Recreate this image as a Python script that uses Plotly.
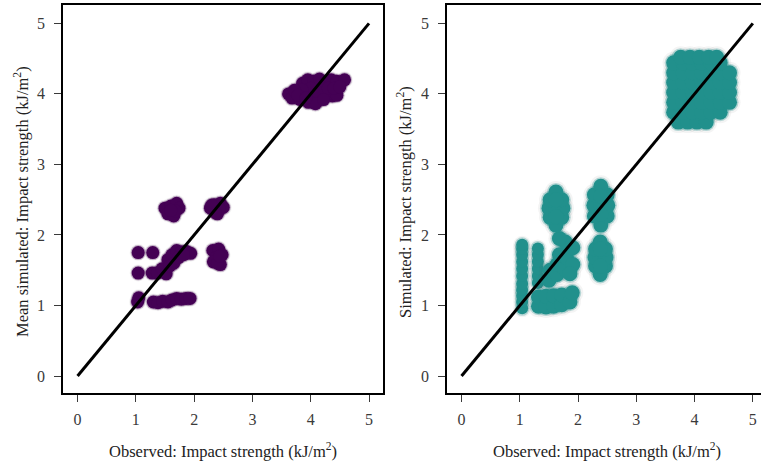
import plotly.graph_objects as go

# ---------------- data ----------------
ticks = [0, 1, 2, 3, 4, 5]
identity = [0, 5]

# Left panel: observed vs mean simulated (jittered)
mean_obs_x = [
    3.62, 3.68, 3.75, 3.82, 3.90, 3.96, 4.03, 4.10, 4.18, 4.28, 4.37, 4.45,
    3.86, 3.95, 4.05, 4.15, 4.25, 4.35, 4.45, 4.58, 4.00, 4.20, 3.85,
    3.72, 3.78, 4.12, 4.30, 4.40, 4.50, 4.08, 3.92, 4.22,
    1.50, 1.55, 1.60, 1.65, 1.70, 1.74, 1.68, 1.60,
    2.28, 2.34, 2.40, 2.45, 2.50, 2.43, 2.36, 2.30,
    2.32, 2.42, 2.48, 2.38, 2.33, 2.45, 2.40, 2.44,
    1.04, 1.29,
    1.55, 1.62, 1.70, 1.78, 1.86, 1.94, 1.65, 1.73, 1.82,
    1.04, 1.28, 1.37, 1.45, 1.52, 1.58,
    1.03, 1.05, 1.30, 1.38, 1.46, 1.55, 1.62, 1.70, 1.78, 1.86, 1.93,
]
mean_sim_y = [
    4.00, 3.94, 4.02, 3.92, 4.00, 3.88, 3.95, 3.89, 3.97, 4.00, 3.97, 3.98,
    4.15, 4.20, 4.18, 4.21, 4.15, 4.20, 4.18, 4.20, 4.08, 4.08, 4.06,
    4.05, 3.98, 4.02, 4.08, 4.08, 4.10, 3.86, 3.94, 3.92,
    2.38, 2.30, 2.41, 2.27, 2.45, 2.38, 2.34, 2.35,
    2.38, 2.43, 2.30, 2.45, 2.39, 2.37, 2.32, 2.42,
    1.78, 1.80, 1.72, 1.68, 1.62, 1.58, 1.60, 1.70,
    1.75, 1.75,
    1.65, 1.72, 1.78, 1.76, 1.77, 1.74, 1.60, 1.68, 1.72,
    1.46, 1.46, 1.46, 1.52, 1.45, 1.56,
    1.05, 1.11, 1.05, 1.04, 1.06, 1.05, 1.08, 1.10, 1.09, 1.10, 1.10,
]

# Right panel: observed vs simulated draws
# (a) runs with little horizontal jitter (narrow columns near 1.0 and 1.3)
sim_narrow_x = [
    1.04, 1.04, 1.04, 1.04, 1.04, 1.04, 1.04, 1.04, 1.04, 1.04, 1.04,
    1.31, 1.31, 1.31, 1.31, 1.31, 1.31,
]
sim_narrow_y = [
    0.96, 1.05, 1.14, 1.22, 1.31, 1.42, 1.52, 1.62, 1.72, 1.80, 1.86,
    1.32, 1.42, 1.52, 1.62, 1.72, 1.81,
]
# (b) remaining runs
sim_obs_x = [
    1.32, 1.32, 1.45, 1.45, 1.58, 1.58, 1.72, 1.72, 1.86, 1.90,
    1.50, 1.52, 1.64, 1.64, 1.77, 1.68, 1.80, 1.91, 1.91, 1.78, 1.68, 1.86,
    1.62, 1.52, 1.72, 1.50, 1.62, 1.74, 1.52, 1.72, 1.62, 1.62, 1.62,
    2.39, 2.28, 2.50, 2.27, 2.39, 2.51, 2.28, 2.50, 2.39, 2.39, 2.39,
    2.38, 2.30, 2.47, 2.29, 2.38, 2.48, 2.30, 2.47, 2.38, 2.38, 2.38,
    3.72, 3.88, 4.04, 4.20,
    3.64, 3.80, 3.96, 4.12, 4.28, 4.44,
    3.64, 3.80, 3.96, 4.12, 4.28, 4.44, 4.60,
    3.64, 3.80, 3.96, 4.12, 4.28, 4.44, 4.60,
    3.64, 3.80, 3.96, 4.12, 4.28, 4.44, 4.60,
    3.64, 3.80, 3.96, 4.12, 4.28, 4.44, 4.60,
    3.64, 3.80, 3.96, 4.12, 4.28, 4.44,
    3.76, 3.92, 4.08, 4.24, 4.38,
]
sim_y = [
    0.99, 1.12, 0.98, 1.13, 0.99, 1.14, 1.01, 1.15, 1.05, 1.18,
    1.36, 1.50, 1.44, 1.58, 1.52, 1.72, 1.68, 1.58, 1.82, 1.90, 1.95, 1.45,
    2.14, 2.25, 2.25, 2.38, 2.37, 2.38, 2.50, 2.50, 2.61, 2.26, 2.50,
    2.14, 2.27, 2.27, 2.42, 2.42, 2.42, 2.57, 2.57, 2.69, 2.55, 2.29,
    1.44, 1.56, 1.56, 1.68, 1.68, 1.68, 1.80, 1.80, 1.90, 1.56, 1.80,
    3.60, 3.60, 3.60, 3.60,
    3.74, 3.74, 3.74, 3.74, 3.74, 3.74,
    3.88, 3.88, 3.88, 3.88, 3.88, 3.88, 3.88,
    4.02, 4.02, 4.02, 4.02, 4.02, 4.02, 4.02,
    4.16, 4.16, 4.16, 4.16, 4.16, 4.16, 4.16,
    4.30, 4.30, 4.30, 4.30, 4.30, 4.30, 4.30,
    4.44, 4.44, 4.44, 4.44, 4.44, 4.44,
    4.52, 4.52, 4.52, 4.52, 4.52,
]

x_title = "Observed: Impact strength (kJ/m<sup>2</sup>)"
y_title_left = "Mean simulated: Impact strength (kJ/m<sup>2</sup>)"
y_title_right = "Simulated: Impact strength (kJ/m<sup>2</sup>)"

PURPLE = "#440154"
TEAL = "#21908C"
FONT = "Liberation Serif"
TICK_COLOR = "#3a3a3a"

W, H = 761, 466
fig = go.Figure()


def cloud(xs, ys, ax, ay, color, core, halo_gray, halo_col):
    fig.add_trace(go.Scatter(x=xs, y=ys, mode="markers", xaxis=ax, yaxis=ay,
                             marker=dict(size=core + halo_gray, color="#666666", opacity=0.07,
                                         line=dict(width=0)), hoverinfo="skip"))
    fig.add_trace(go.Scatter(x=xs, y=ys, mode="markers", xaxis=ax, yaxis=ay,
                             marker=dict(size=core + halo_col, color=color, opacity=0.3,
                                         line=dict(width=0)), hoverinfo="skip"))
    fig.add_trace(go.Scatter(x=xs, y=ys, mode="markers", xaxis=ax, yaxis=ay,
                             marker=dict(size=core, color=color, opacity=1, line=dict(width=0))))


# left panel
cloud(mean_obs_x, mean_sim_y, "x", "y", PURPLE, 13, 4, 2)
fig.add_trace(go.Scatter(x=identity, y=identity, mode="lines", xaxis="x", yaxis="y",
                         line=dict(color="black", width=3)))

# right panel
cloud(sim_narrow_x, sim_narrow_y, "x2", "y2", TEAL, 12, 6, 3)
cloud(sim_obs_x, sim_y, "x2", "y2", TEAL, 15, 7, 3)
fig.add_trace(go.Scatter(x=identity, y=identity, mode="lines", xaxis="x2", yaxis="y2",
                         line=dict(color="black", width=3)))

ax_common = dict(tickvals=ticks, ticks="outside", ticklen=7, tickwidth=1, tickcolor=TICK_COLOR,
                 showgrid=False, zeroline=False, showline=True, linecolor="black", linewidth=1.6,
                 tickfont=dict(family=FONT, size=16, color=TICK_COLOR))

ydom = [(H - 393) / H, (H - 5) / H]
title_font = dict(family=FONT, size=16.5, color="#222222")
fig.update_layout(
    width=W, height=H, autosize=False,
    margin=dict(l=0, r=0, t=0, b=0),
    paper_bgcolor="white", plot_bgcolor="white",
    showlegend=False,
    font=dict(family=FONT, color="#222222"),
    xaxis=dict(domain=[63 / W, 383 / W], range=[-0.25, 5.24], anchor="y", mirror=True,
               ticklabelstandoff=4, **ax_common),
    yaxis=dict(domain=ydom, range=[-0.24, 5.26], anchor="x", mirror=True,
               ticklabelstandoff=6, **ax_common),
    xaxis2=dict(domain=[447 / W, 1.0], range=[-0.25, 5.14], anchor="y2", mirror=True,
                ticklabelstandoff=4, **ax_common),
    yaxis2=dict(domain=ydom, range=[-0.24, 5.26], anchor="x2", mirror=False,
                ticklabelstandoff=6, **ax_common),
    annotations=[
        dict(text=x_title, x=223.4 / W, y=(H - 450) / H, xref="paper", yref="paper",
             showarrow=False, xanchor="center", yanchor="middle", font=title_font),
        dict(text=x_title, x=607.2 / W, y=(H - 450) / H, xref="paper", yref="paper",
             showarrow=False, xanchor="center", yanchor="middle", font=title_font),
        dict(text=y_title_left, x=21 / W, y=(H - 202) / H, xref="paper", yref="paper",
             showarrow=False, xanchor="center", yanchor="middle", textangle=-90, font=title_font),
        dict(text=y_title_right, x=404 / W, y=(H - 202) / H, xref="paper", yref="paper",
             showarrow=False, xanchor="center", yanchor="middle", textangle=-90, font=title_font),
    ],
)

fig.write_html("out.html", config={"displayModeBar": False},
               post_script="document.body.style.margin='0';")
